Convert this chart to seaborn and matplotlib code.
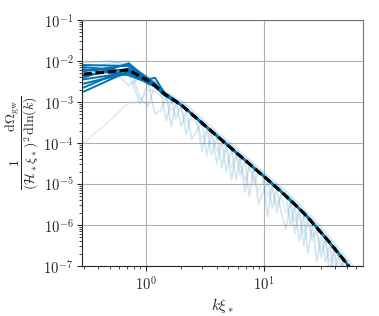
import matplotlib
matplotlib.use('Agg')
import matplotlib.pyplot as plt
import matplotlib.ticker as mticker
import numpy as np
import seaborn as sns

# coarse wavenumber grid k*xi_* (mean and the highlighted runs)
k_coarse = [0.3, 0.72, 1.05, 1.2, 1.45, 1.75, 2.05, 2.4, 2.8, 3.3, 3.9, 4.6, 5.3, 6.0, 7.0, 8.0,
            9.2, 10.5, 12, 13.5, 15, 17, 19, 21.5, 24, 27, 30, 34, 38, 43, 48, 54, 60]

# log10 of the averaged spectrum (black dashed)
mean_log = [-2.32, -2.22, -2.48, -2.60, -2.81, -2.96, -3.10, -3.27, -3.44, -3.62, -3.80, -3.98,
            -4.13, -4.27, -4.43, -4.58, -4.73, -4.87, -5.02, -5.15, -5.27, -5.42, -5.55, -5.70,
            -5.85, -6.02, -6.17, -6.35, -6.52, -6.71, -6.88, -7.07, -7.24]

# log10 of the highlighted runs at low k; beyond these points they sit on the mean
dark_heads = [
    [-2.10, -2.12, -2.45, -2.41, -2.79, -2.95],
    [-2.15, -2.25, -2.50, -2.60, -2.83, -2.98],
    [-2.25, -2.10, -2.42, -2.55, -2.80, -2.95],
    [-2.35, -2.20, -2.52, -2.60, -2.82, -2.97],
    [-2.45, -2.28, -2.55, -2.62, -2.84, -2.96],
    [-2.55, -2.30, -2.47, -2.57, -2.79, -2.95],
    [-2.65, -2.18, -2.50, -2.58, -2.81, -2.97],
    [-2.75, -2.25, -2.45, -2.60, -2.80, -2.96],
    [-2.40, -2.06, -2.44, -2.56, -2.78, -2.94],
    [-2.20, -2.35, -2.53, -2.63, -2.83, -2.98],
]

# finer grid for the single noisy realisations (faint lines)
k_fine = [0.3, 0.5, 0.72, 0.9, 1.05, 1.2, 1.35, 1.5, 1.65, 1.8, 2.0, 2.2, 2.45, 2.7, 3.0, 3.3, 3.6,
          4.0, 4.4, 4.8, 5.3, 5.8, 6.3, 6.9, 7.5, 8.2, 9.0, 9.8, 10.7, 11.7, 12.8, 14, 15.3, 16.7,
          18.2, 19.8, 21.6, 23.5, 25.6, 27.9, 30.4, 33, 36, 39, 42.5, 46, 50, 54.5, 59.5]

faint_a = [-2.05, -2.0, -2.1, -2.3, -2.4, -2.5, -2.66, -2.76, -2.83, -2.9, -2.98, -3.07, -3.19, -3.30,
           -3.41, -3.52, -3.61, -3.73, -3.83, -3.92, -4.03, -4.12, -4.22, -4.31, -4.40, -4.50, -4.60,
           -4.69, -4.79, -4.88, -4.98, -5.08, -5.17, -5.28, -5.39, -5.49, -5.61, -5.71, -5.82, -5.94,
           -6.06, -6.18, -6.31, -6.43, -6.56, -6.68, -6.81, -6.94, -7.08]
faint_b = [-2.25, -2.05, -2.0, -2.45, -2.45, -2.55, -2.7, -2.8, -2.95, -2.95, -3.02, -3.12, -3.26,
           -3.34, -3.46, -3.58, -3.66, -3.78, -3.88, -3.97, -4.09, -4.16, -4.27, -4.38, -4.44, -4.55,
           -4.66, -4.73, -4.84, -4.95, -5.02, -5.13, -5.24, -5.33, -5.46, -5.56, -5.68, -5.77, -5.89,
           -6.0, -6.13, -6.26, -6.38, -6.5, -6.64, -6.76, -6.88, -7.02, -7.15]
faint_c = [-2.6, -2.35, -2.1, -2.9, -3.1, -2.6, -2.78, -3.45, -2.95, -3.0, -3.6, -3.2, -3.3, -3.42,
           -4.2, -3.65, -4.3, -3.85, -3.95, -4.7, -4.15, -4.25, -4.34, -5.2, -4.53, -5.0, -4.73, -4.82,
           -5.8, -5.01, -5.11, -5.7, -6.1, -5.42, -5.54, -6.4, -5.76, -5.86, -5.97, -6.9, -6.22, -6.9,
           -6.47, -6.6, -7.5, -6.85, -7.6, -7.1, -7.24]
faint_d = [-2.45, -2.15, -2.6, -2.4, -2.5, -3.3, -3.2, -2.86, -2.94, -3.4, -3.09, -3.19, -3.9, -3.7,
           -3.53, -3.64, -3.73, -4.5, -3.95, -4.04, -4.9, -4.25, -4.8, -4.44, -4.53, -4.63, -5.5, -5.2,
           -4.92, -5.01, -5.7, -5.21, -5.31, -5.42, -6.2, -5.64, -6.5, -5.86, -6.3, -6.09, -6.22, -6.34,
           -7.2, -6.59, -6.72, -7.3, -6.97, -7.7, -7.24]
faint_e = [-2.2, -2.45, -2.3, -3.05, -2.52, -2.63, -2.74, -2.85, -3.6, -3.0, -3.08, -3.8, -3.3, -3.41,
           -3.52, -4.3, -3.72, -3.84, -4.6, -4.03, -4.14, -4.9, -4.33, -4.43, -5.3, -4.62, -4.72, -4.81,
           -4.91, -5.6, -5.10, -5.20, -5.30, -6.0, -5.53, -5.63, -5.75, -6.7, -5.96, -6.08, -6.8, -6.33,
           -6.46, -7.2, -6.71, -6.83, -6.96, -7.09, -7.8]
faint_gray = [-4.0, -3.45, -3.02, -3.0, -2.7, -2.75, -2.85, -2.95, -3.2, -3.1, -3.2, -3.5, -3.4, -3.5,
              -3.9, -3.7, -3.8, -4.2, -4.0, -4.1, -4.6, -4.3, -4.5, -4.9, -4.6, -4.8, -5.2, -4.9, -5.3,
              -5.1, -5.5, -5.3, -5.7, -5.5, -5.9, -5.7, -6.2, -5.95, -6.4, -6.15, -6.6, -6.4, -6.9,
              -6.65, -7.1, -6.9, -7.4, -7.15, -7.6]

blue = '#0173b2'

sns.set_style('ticks')
plt.rcParams['mathtext.fontset'] = 'cm'
plt.rcParams['font.family'] = ['DejaVu Serif']

fig = plt.figure(figsize=(3.79, 3.16), dpi=100)
ax = fig.add_axes([0.216, 0.158, 0.742, 0.779])

kf = np.array(k_fine)
for flog in [faint_a, faint_b, faint_c, faint_d, faint_e]:
    sns.lineplot(x=kf, y=10 ** np.array(flog), ax=ax, color=blue, alpha=0.17, lw=1.3,
                 estimator=None, sort=False)
sns.lineplot(x=kf, y=10 ** np.array(faint_gray), ax=ax, color='#c3ccd3', alpha=0.4, lw=1.2,
             estimator=None, sort=False)

kc = np.array(k_coarse)
for head in dark_heads:
    run = head + mean_log[len(head):]
    sns.lineplot(x=kc, y=10 ** np.array(run), ax=ax, color=blue, lw=1.4, estimator=None, sort=False)

sns.lineplot(x=kc, y=10 ** np.array(mean_log), ax=ax, color='black', lw=2.3,
             estimator=None, sort=False)
ax.lines[-1].set_dashes((2.6, 1.2))

ax.set_xscale('log')
ax.set_yscale('log')
ax.set_xlim(0.29, 68.5)
ax.set_ylim(1e-7, 1e-1)
pow_fmt = mticker.FuncFormatter(lambda v, p: r'$10^{%d}$' % int(round(np.log10(v))))
ax.xaxis.set_major_formatter(pow_fmt)
ax.yaxis.set_major_formatter(pow_fmt)
ax.grid(True, which='major', color='#b0b0b0', lw=0.8)
ax.set_axisbelow(True)
for side in ['top', 'right']:
    ax.spines[side].set_color('0.45')
ax.tick_params(which='major', length=3.5, width=0.8, labelsize=10.5, pad=2.5)
ax.tick_params(which='minor', length=2, width=0.6)
ax.set_xlabel(r'$k\xi_*$', fontsize=11, labelpad=3)
ax.set_ylabel(r'$\dfrac{1}{(\mathcal{H}_*\xi_*)^2}\dfrac{\mathrm{d}\Omega_{\mathrm{gw}}}{\mathrm{d}\ln(k)}$',
              fontsize=10, labelpad=2)

fig.savefig('out.png', dpi=100)
